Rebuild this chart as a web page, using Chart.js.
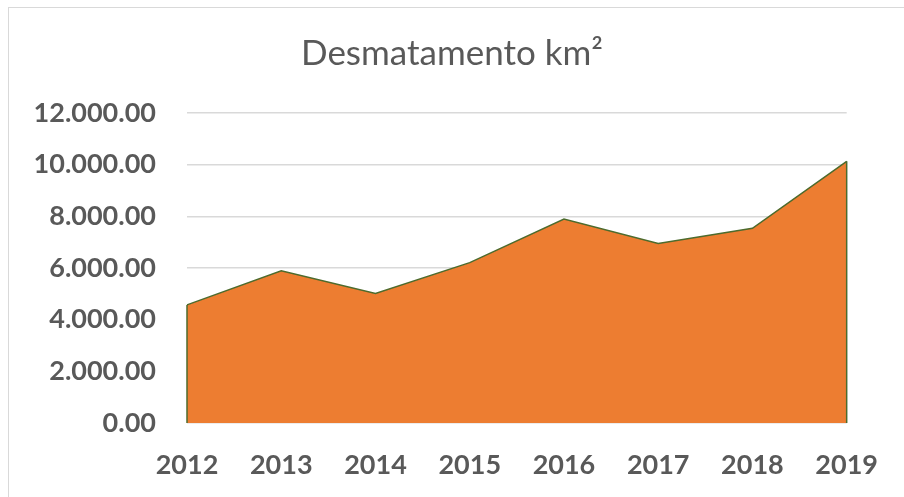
<!DOCTYPE html>
<html>
<head>
<meta charset="utf-8">
<script src="https://cdn.jsdelivr.net/npm/chart.js@4"></script>
<style>
  html, body { margin: 0; padding: 0; background: #fff; }
  #wrap { position: relative; width: 904px; height: 497px; overflow: hidden; }
  #frame { position: absolute; left: 8px; top: 7px; width: 1000px; height: 600px; border: 1px solid #d9d9d9; box-sizing: border-box; }
  canvas { position: absolute; left: 0; top: 0; }
</style>
</head>
<body>
<div id="wrap">
  <div id="frame"></div>
  <canvas id="c" width="904" height="497"></canvas>
</div>
<script>
const years = ['2012', '2013', '2014', '2015', '2016', '2017', '2018', '2019'];
const deforestation = [4571, 5891, 5012, 6207, 7893, 6947, 7536, 10129];
const yTicks = [0, 2000, 4000, 6000, 8000, 10000, 12000];
const titleText = 'Desmatamento km²';

function fmt(v) {
  const s = Math.round(v).toString().replace(/\B(?=(\d{3})+(?!\d))/g, '.');
  return s + '.00';
}

const edgePlugin = {
  id: 'edges',
  afterDatasetsDraw(chart) {
    const meta = chart.getDatasetMeta(0);
    const pts = meta.data;
    if (!pts.length) return;
    const base = chart.scales.y.getPixelForValue(0);
    const ctx = chart.ctx;
    ctx.save();
    ctx.strokeStyle = '#4d6b2d';
    ctx.lineWidth = 1.5;
    ctx.beginPath();
    ctx.moveTo(pts[0].x, pts[0].y);
    ctx.lineTo(pts[0].x, base);
    ctx.moveTo(pts[pts.length - 1].x, pts[pts.length - 1].y);
    ctx.lineTo(pts[pts.length - 1].x, base);
    ctx.stroke();
    ctx.restore();
  }
};

const tickFont = { family: 'Lato', size: 27, weight: 'bold', lineHeight: 1.2 };

new Chart(document.getElementById('c'), {
  type: 'line',
  data: {
    labels: years,
    datasets: [{
      data: deforestation,
      fill: 'origin',
      backgroundColor: '#ed7d31',
      borderColor: '#4d6b2d',
      borderWidth: 1.5,
      pointRadius: 0,
      tension: 0
    }]
  },
  options: {
    responsive: false,
    animation: false,
    layout: { padding: 0 },
    plugins: {
      legend: { display: false },
      tooltip: { enabled: false },
      title: {
        display: true,
        text: titleText,
        color: '#595959',
        font: { family: 'Lato', size: 35, weight: 'normal', lineHeight: 1.2 },
        padding: { top: 33, bottom: 38 }
      }
    },
    scales: {
      x: {
        offset: false,
        grid: { display: false, drawTicks: false },
        border: { display: false },
        ticks: {
          color: '#595959',
          font: tickFont,
          padding: 26,
          maxRotation: 0
        },
        afterFit(s) { s.height = 74; }
      },
      y: {
        min: 0,
        max: 12000,
        afterBuildTicks(s) { s.ticks = yTicks.map(v => ({ value: v })); },
        grid: { color: '#d9d9d9', lineWidth: 1.5, drawTicks: false },
        border: { display: false },
        ticks: {
          color: '#595959',
          font: tickFont,
          padding: 31,
          callback: (v) => fmt(v)
        },
        afterFit(s) { s.width = 187; }
      },
      yRight: {
        position: 'right',
        min: 0,
        max: 12000,
        grid: { display: false, drawTicks: false },
        border: { display: false },
        ticks: { display: false },
        afterFit(s) { s.width = 49; }
      }
    }
  },
  plugins: [edgePlugin]
});
</script>
</body>
</html>
